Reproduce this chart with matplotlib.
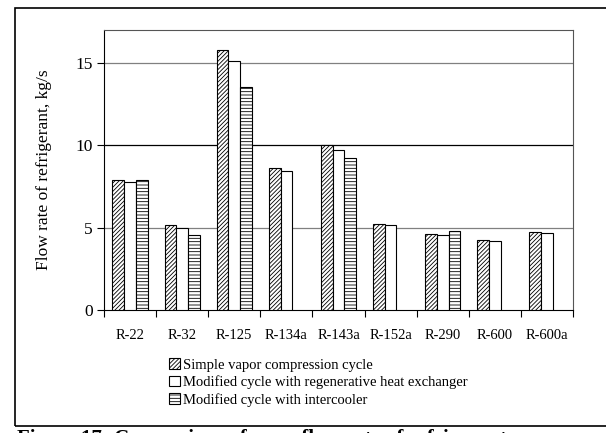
import numpy as np
import matplotlib
matplotlib.use('Agg')
import matplotlib.pyplot as plt
from matplotlib.patches import Rectangle

plt.rcParams['font.family'] = ['Liberation Serif', 'DejaVu Serif']
plt.rcParams['hatch.linewidth'] = 0.6

refrigerants = ['R-22', 'R-32', 'R-125', 'R-134a', 'R-143a', 'R-152a', 'R-290', 'R-600', 'R-600a']
simple = [7.9, 5.15, 15.8, 8.65, 10.0, 5.2, 4.6, 4.25, 4.75]
regen = [7.8, 5.0, 15.1, 8.45, 9.7, 5.15, 4.55, 4.2, 4.7]
intercool = [7.9, 4.55, 13.55, np.nan, 9.2, np.nan, 4.8, np.nan, np.nan]
labels = ['Simple vapor compression cycle',
          'Modified cycle with regenerative heat exchanger',
          'Modified cycle with intercooler']

fig = plt.figure(figsize=(6.06, 4.33), dpi=100)
ax = fig.add_axes([104/606, 1-310/433, (573-104)/606, (310-30)/433])

x = np.arange(len(refrigerants))
w = 0.225
b1 = ax.bar(x - w, simple, w, color='white', edgecolor='black', hatch='////////', lw=0.8, label=labels[0], zorder=3)
b2 = ax.bar(x, regen, w, color='white', edgecolor='black', lw=0.8, label=labels[1], zorder=3)
b3 = ax.bar(x + w, intercool, w, color='white', edgecolor='black', hatch='-----', lw=0.8, label=labels[2], zorder=3)

ax.set_xlim(-0.5, len(refrigerants) - 0.5)
ax.set_ylim(0, 17)
ax.set_yticks([0, 5, 10, 15])
ax.set_yticklabels(['0', '5', '10', '15'], fontsize=12.5)
for yv, c in [(5, '#808080'), (10, 'black'), (15, '#808080')]:
    ax.axhline(yv, color=c, lw=0.9, zorder=1)

ax.set_xticks(np.arange(len(refrigerants) + 1) - 0.5)
ax.set_xticklabels([])
ax.set_xticks(x, minor=True)
ax.set_xticklabels(refrigerants, minor=True, fontsize=10.5)
ax.tick_params(axis='x', which='major', direction='out', length=5, width=0.8)
ax.tick_params(axis='x', which='minor', length=0, pad=14)
ax.tick_params(axis='y', direction='out', length=5, width=0.8, pad=3)
ax.set_ylabel('Flow rate of refrigerant, kg/s', fontsize=12.5, labelpad=17)
ax.spines['top'].set_color('#555555')
ax.spines['right'].set_color('#555555')

leg = fig.legend(handles=[b1, b2, b3], labels=labels, loc='upper left',
                 bbox_to_anchor=(162/606, 1-351/433), frameon=False, fontsize=10.5,
                 handlelength=0.75, handleheight=0.75, handletextpad=0.2,
                 labelspacing=0.25, borderpad=0)

fig.patches.append(Rectangle((15/606, 1-426/433), 1.2, (426-8)/433, transform=fig.transFigure,
                             fill=False, edgecolor='black', lw=1.2))
fig.text(17/606, 1-429/433, 'Figure 17: Comparison of mass flow rate of refrigerant',
         fontsize=15, fontweight='bold', va='top', ha='left')

fig.savefig('out.png', dpi=100)
